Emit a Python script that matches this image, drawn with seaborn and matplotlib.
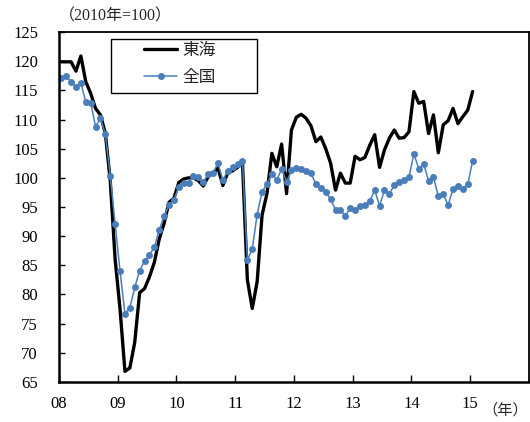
import matplotlib
matplotlib.use('Agg')
import matplotlib.pyplot as plt
import seaborn as sns
import numpy as np
import pandas as pd
from matplotlib.patches import Rectangle

# 月次データ（2008年1月～2015年1月）、2010年=100
tokai = [119.9, 119.9, 119.9, 118.3, 120.9, 116.5, 114.5, 111.9, 110.8, 107.6, 99.5, 86.0,
         77.5, 66.8, 67.4, 71.8, 80.3, 81.0, 83.0, 85.5, 89.5, 92.2, 95.8, 96.5,
         99.2, 99.8, 100.0, 100.0, 99.5, 98.6, 100.2, 100.8, 101.7, 98.7, 100.9, 101.2,
         101.8, 102.6, 82.5, 77.6, 82.2, 93.6, 97.3, 104.2, 101.9, 105.8, 97.3, 108.2,
         110.4, 110.9, 110.2, 108.9, 106.2, 107.0, 105.0, 102.5, 97.9, 100.8, 99.1, 99.1,
         103.7, 103.1, 103.5, 105.6, 107.4, 101.8, 104.8, 106.8, 108.2, 106.8, 106.9, 107.9,
         114.8, 112.8, 113.1, 107.6, 110.8, 104.3, 109.1, 109.8, 111.9, 109.3, 110.5, 111.6,
         114.8]
zenkoku = [117.2, 117.5, 116.4, 115.6, 116.3, 113.0, 112.9, 108.8, 110.2, 107.5, 100.4, 92.0,
           84.0, 76.7, 77.7, 81.2, 84.1, 85.7, 86.8, 88.1, 91.1, 93.4, 95.3, 96.2,
           98.5, 99.1, 99.2, 100.3, 100.2, 99.3, 100.6, 100.9, 102.5, 99.6, 101.2, 101.8,
           102.3, 102.9, 85.9, 87.8, 93.7, 97.6, 98.9, 100.7, 99.6, 101.5, 99.3, 101.3,
           101.7, 101.5, 101.2, 100.8, 98.9, 98.2, 97.6, 96.3, 94.5, 94.5, 93.5, 94.8,
           94.5, 95.1, 95.4, 96.0, 97.9, 95.2, 97.9, 97.3, 98.7, 99.3, 99.6, 100.1,
           104.1, 101.6, 102.4, 99.5, 100.2, 96.8, 97.2, 95.3, 98.1, 98.6, 98.1, 98.9,
           102.9]
year_labels = ['08', '09', '10', '11', '12', '13', '14', '15']
y_ticks = list(range(65, 126, 5))

# 月を区間の中央に置く
months = np.arange(len(tokai)) + 0.5

sns.set_style('white')
plt.rcParams['font.family'] = ['Liberation Serif', 'Noto Sans CJK JP', 'DejaVu Sans']

fig = plt.figure(figsize=(5.3, 4.22), dpi=100)
ax = fig.add_axes([0.111, 0.095, 0.887, 0.829])

sns.lineplot(x=months, y=tokai, ax=ax, color='black', linewidth=2.4, label='東海')
sns.lineplot(x=months, y=zenkoku, ax=ax, color='#4a7ebb', linewidth=1.1,
             marker='o', markersize=5, markeredgewidth=0, label='全国')

ax.set_xlim(0, 96)
ax.set_ylim(65, 125)
ax.set_xticks(np.arange(0, 96, 12))
ax.set_xticklabels(year_labels)
ax.set_yticks(y_ticks)
ax.tick_params(axis='both', direction='in', labelsize=12, colors='black', length=4, width=1)
ax.tick_params(axis='y', pad=15)
ax.tick_params(axis='x', pad=10, length=5)
ax.xaxis.set_ticks_position('bottom')
ax.yaxis.set_ticks_position('left')

for side in ['top', 'right']:
    ax.spines[side].set_linewidth(1.3)
    ax.spines[side].set_color('black')
for side in ['left', 'bottom']:
    ax.spines[side].set_linewidth(1.8)
    ax.spines[side].set_color('black')

# 凡例の枠
ax.add_patch(Rectangle((0.1106, 0.826), 0.311, 0.154, transform=ax.transAxes,
                       fill=False, edgecolor='black', linewidth=1.0, zorder=5))
leg = ax.legend(loc='upper left', bbox_to_anchor=(0.181, 0.968), frameon=False,
                fontsize=12, handlelength=2.0, handletextpad=0.3,
                labelspacing=0.65, borderpad=0, borderaxespad=0)

fig.text(0.112, 0.96, '（2010年=100）', fontsize=11.5, ha='left', va='center')
fig.text(0.997, 0.028, '（年）', fontsize=11, ha='right', va='center')

fig.savefig('out.png', dpi=100)
